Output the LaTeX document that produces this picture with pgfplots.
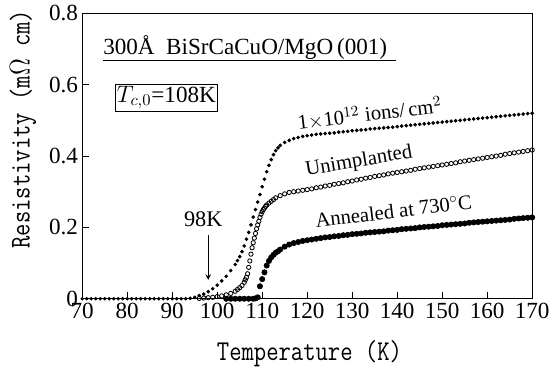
\documentclass[border=0pt]{standalone}
\usepackage{fontspec}
\setmainfont{Liberation Serif}
\usepackage{graphicx}
\usepackage{pgfplots}
\pgfplotsset{compat=1.18}
\begin{document}
\begin{tikzpicture}
\begin{axis}[
  width=272.4pt, height=172.8pt, scale only axis,
  xmin=70, xmax=170, ymin=0, ymax=0.8,
  xtick={70,80,...,170}, ytick={0,0.2,0.4,0.6,0.8},
  yticklabels={0,0.2,0.4,0.6,0.8},
  tick align=inside, xtick pos=bottom, ytick pos=left,
  major tick length=4pt,
  tick style={line width=0.5pt,black},
  axis line style={line width=0.6pt},
  /pgf/number format/assume math mode=true,
  ticklabel style={font=\fontsize{14}{14}\selectfont},
  xticklabel style={yshift=1pt},
  yticklabel style={xshift=1pt},
  xlabel={\scalebox{1}[1.2]{\fontsize{14.5}{14.5}\selectfont\ttfamily Temperature (K)}},
  ylabel={\scalebox{1}[1.2]{\fontsize{14.5}{14.5}\selectfont\ttfamily Resistivity (m$\Omega$ cm)}},
  every axis x label/.style={at={(axis description cs:0.505,-0.191)}, anchor=center},
  every axis y label/.style={at={(axis description cs:-0.132,0.594)}, rotate=90, anchor=center},
  clip=false,
]
% 1x10^12 ions/cm2 : small filled dots
\addplot[only marks, mark=*, mark size=0.9pt, black] coordinates {
(70,0)(71,0)(72,0)(73,0)(74,0)(75,0)(76,0)(77,0)(78,0)(79,0)(80,0)(81,0)(82,0)(83,0)(84,0)(85,0)(86,0)(87,0)(88,0)(89,0)(90,0)(91,0)(92,0)(93,0)(94,0.001)
(95,0.004)(96,0.009)(97,0.013)(98,0.020)(99,0.028)(100,0.038)(101,0.050)(102,0.063)(103,0.079)(104,0.096)(104.5,0.107)(105,0.118)(105.5,0.132)(106,0.148)(106.5,0.167)(107,0.186)(107.5,0.207)(108,0.229)(108.5,0.250)(109,0.271)(109.5,0.292)(110,0.314)(110.5,0.335)(111,0.356)(111.5,0.374)(112,0.390)(112.5,0.404)(113,0.415)(113.5,0.423)(114,0.430)(115,0.438)(116,0.444)(117,0.449)(118,0.452)(119,0.455)(120,0.457)
(121,0.459)(122,0.461)(123,0.462)(124,0.463)(125,0.464)(126,0.465)(127,0.467)(128,0.468)(129,0.469)(130,0.471)(131,0.472)(132,0.473)(133,0.474)(134,0.476)(135,0.477)(136,0.478)(137,0.479)(138,0.480)(139,0.481)(140,0.4825)
(141,0.484)(142,0.4852)(143,0.4865)(144,0.4877)(145,0.489)(146,0.4902)(147,0.4915)(148,0.4927)(149,0.494)(150,0.4952)(151,0.4965)(152,0.4977)(153,0.499)(154,0.5002)(155,0.5015)(156,0.5027)(157,0.504)(158,0.5052)(159,0.5065)(160,0.5077)
(161,0.509)(162,0.5102)(163,0.5115)(164,0.5127)(165,0.514)(166,0.5152)(167,0.5165)(168,0.5177)(169,0.519)(170,0.520)
};
% Unimplanted : open circles
\addplot[only marks, mark=o, mark size=1.3pt, black, mark options={line width=0.5pt}] coordinates {
(96,0.001)(97,0.002)(98,0.003)(99,0.004)(100,0.006)(101,0.008)(102,0.011)(103,0.015)(104,0.021)(104.5,0.026)(105,0.031)(105.5,0.037)(106,0.046)(106.25,0.053)(106.5,0.060)(106.75,0.070)(107,0.088)(107.25,0.106)(107.5,0.125)(107.75,0.143)(108,0.157)(108.25,0.170)(108.5,0.183)(108.75,0.196)(109,0.207)(109.25,0.217)(109.5,0.228)(109.75,0.237)(110,0.244)(110.25,0.250)(110.5,0.254)(110.75,0.259)(111,0.263)(111.5,0.268)(112,0.273)(112.5,0.278)(113,0.283)(114,0.289)(115,0.294)(116,0.298)
(117,0.300)(118,0.302)(119,0.304)(120,0.306)(121,0.308)(122,0.311)(123,0.313)(124,0.316)(125,0.318)(126,0.321)(127,0.323)(128,0.325)(129,0.328)(130,0.330)(131,0.333)(132,0.335)(133,0.338)(134,0.340)(135,0.343)(136,0.345)(137,0.347)(138,0.350)
(139,0.352)(140,0.354)(141,0.356)(142,0.358)(143,0.360)(144,0.363)(145,0.365)(146,0.367)(147,0.369)(148,0.371)(149,0.373)(150,0.375)(151,0.377)(152,0.379)(153,0.381)(154,0.384)(155,0.386)(156,0.388)(157,0.390)(158,0.392)(159,0.394)(160,0.396)
(161,0.398)(162,0.400)(163,0.402)(164,0.405)(165,0.407)(166,0.409)(167,0.411)(168,0.413)(169,0.415)(170,0.417)
};
% Annealed at 730C : large filled dots
\addplot[only marks, mark=*, mark size=1.6pt, black] coordinates {
(102,0)(103,0)(104,0)(105,0)(106,0)(107,0)(108,0)(108.5,0.001)(109,0.004)(109.5,0.035)(110,0.055)(110.5,0.074)(111,0.093)(111.5,0.106)(112,0.116)(112.5,0.123)(113,0.129)(113.5,0.133)(114,0.138)(115,0.146)(116,0.152)(117,0.156)(118,0.159)(119,0.162)(120,0.164)
(121,0.166)(122,0.168)(123,0.170)(124,0.172)(125,0.173)(126,0.175)(127,0.176)(128,0.178)(129,0.179)(130,0.181)(131,0.182)(132,0.183)(133,0.185)(134,0.186)(135,0.187)(136,0.188)(137,0.189)(138,0.191)(139,0.192)(140,0.193)
(141,0.195)(142,0.196)(143,0.197)(144,0.198)(145,0.200)(146,0.201)(147,0.202)(148,0.203)(149,0.204)(150,0.206)(151,0.207)(152,0.208)(153,0.209)(154,0.210)(155,0.211)(156,0.213)(157,0.214)(158,0.215)(159,0.216)(160,0.217)
(161,0.218)(162,0.219)(163,0.220)(164,0.221)(165,0.222)(166,0.224)(167,0.225)(168,0.226)(169,0.227)(170,0.228)
};
\node[anchor=base west, font=\fontsize{14}{14}\selectfont, inner sep=0pt] at (axis cs:74.6,0.685) {300Å\ \ BiSrCaCuO/MgO\,(001)};
\draw[line width=0.5pt] (axis cs:74.6,0.669) -- (axis cs:139.8,0.669);
\node[draw, line width=0.5pt, inner sep=1.2pt, font=\fontsize{14}{14}\selectfont] at (axis cs:88.7,0.564) {$T_{c,0}$=108K};
\node[font=\fontsize{13.5}{13.5}\selectfont] at (axis cs:96.9,0.222) {98K};
\draw[->, >=stealth, line width=0.5pt] (axis cs:98,0.178) -- (axis cs:98,0.053);
\node[rotate=7, font=\fontsize{12.5}{12.5}\selectfont] at (axis cs:133.9,0.519) {1$\times$10$^{12}$ ions/\,cm$^2$};
\node[rotate=9.5, font=\fontsize{12.5}{12.5}\selectfont] at (axis cs:131.5,0.384) {Unimplanted};
\node[rotate=7, font=\fontsize{12.5}{12.5}\selectfont] at (axis cs:139.2,0.246) {Annealed at 730$^\circ$C};
\path (axis description cs:-0.1828,-0.2639) rectangle (axis description cs:1.0396,1.0451);
\end{axis}
\end{tikzpicture}
\end{document}
